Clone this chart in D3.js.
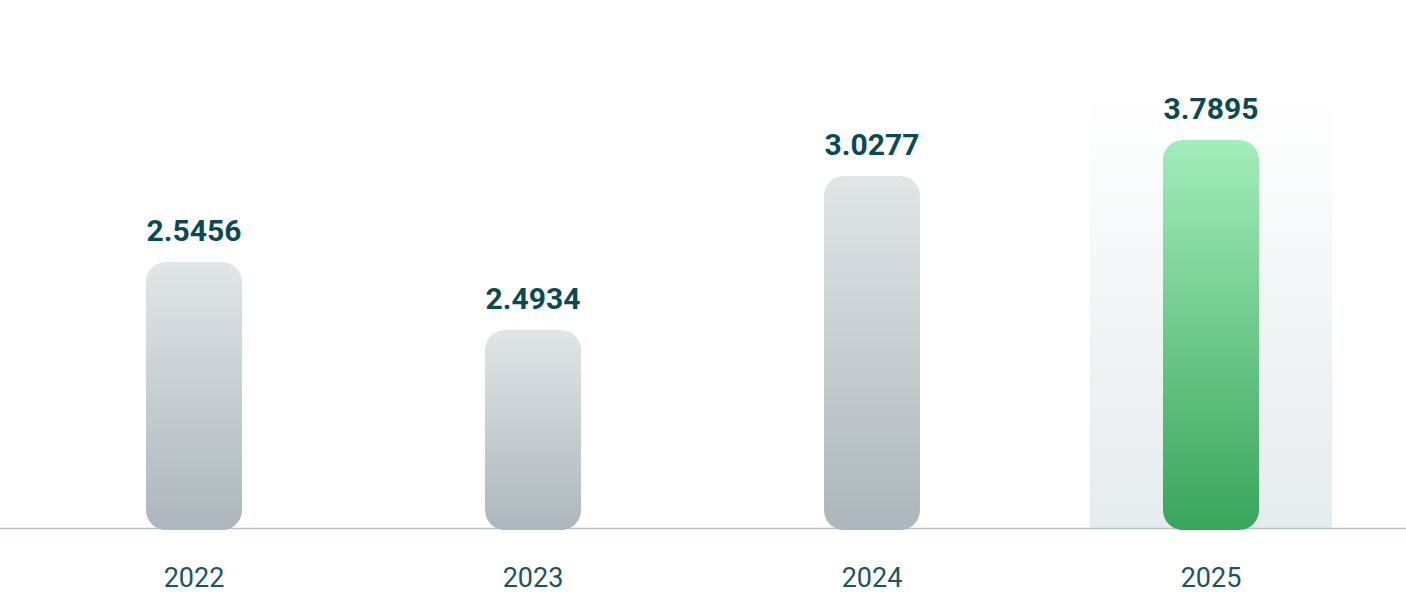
<!DOCTYPE html>
<html>
<head>
<meta charset="utf-8">
<script src="https://cdn.jsdelivr.net/npm/d3@7"></script>
<style>
  body { margin: 0; background: #fff; }
  svg { display: block; }
</style>
</head>
<body>
<div id="chart"></div>
<script>
// data
var years = ["2022", "2023", "2024", "2025"];
var values = [2.5456, 2.4934, 3.0277, 3.7895];
var labels = ["2.5456", "2.4934", "3.0277", "3.7895"];
var highlightYear = "2025";

var width = 1406, height = 600;
var baseline = 529;

var svg = d3.select("#chart").append("svg")
  .attr("width", width)
  .attr("height", height);

var defs = svg.append("defs");

function vGrad(id, stops) {
  var g = defs.append("linearGradient")
    .attr("id", id)
    .attr("x1", 0).attr("y1", 0).attr("x2", 0).attr("y2", 1);
  stops.forEach(function(s) {
    g.append("stop").attr("offset", s[0]).attr("stop-color", s[1]);
  });
}
vGrad("grayGrad", [[0, "#e1e6e7"], [1, "#acb6bc"]]);
vGrad("greenGrad", [[0, "#a3edbb"], [1, "#39a55b"]]);
vGrad("colGrad", [[0, "#ffffff"], [1, "#e6ebed"]]);

var x = d3.scaleBand()
  .domain(years)
  .range([24.5, 1380.5])
  .paddingInner(0)
  .paddingOuter(0);

// the source chart does not scale bars linearly from zero,
// so use a piecewise scale that follows its visual heights
var y = d3.scaleLinear()
  .domain([2.4934, 2.5456, 3.0277, 3.7895])
  .range([330, 262, 176, 140]);

var barW = 96;
var colW = 242;

// highlight column behind the latest year
svg.append("rect")
  .attr("x", x(highlightYear) + x.bandwidth() / 2 - colW / 2)
  .attr("y", 92)
  .attr("width", colW)
  .attr("height", baseline - 92)
  .attr("fill", "url(#colGrad)");

// baseline
svg.append("line")
  .attr("x1", 0).attr("x2", width)
  .attr("y1", baseline - 0.5).attr("y2", baseline - 0.5)
  .attr("stroke", "#b9c5c9")
  .attr("stroke-width", 1.5);

var g = svg.selectAll(".bar")
  .data(years)
  .enter().append("g")
  .attr("class", "bar");

g.append("rect")
  .attr("x", function(d) { return x(d) + x.bandwidth() / 2 - barW / 2; })
  .attr("y", function(d, i) { return y(values[i]); })
  .attr("width", barW)
  .attr("height", function(d, i) { return baseline + 1 - y(values[i]); })
  .attr("rx", 20).attr("ry", 20)
  .attr("fill", function(d) { return d === highlightYear ? "url(#greenGrad)" : "url(#grayGrad)"; });

g.append("text")
  .attr("x", function(d) { return x(d) + x.bandwidth() / 2; })
  .attr("y", function(d, i) { return y(values[i]) - 21; })
  .attr("text-anchor", "middle")
  .attr("font-family", "Roboto, sans-serif")
  .attr("font-weight", 700)
  .attr("font-size", 30)
  .attr("fill", "#0c4a51")
  .text(function(d, i) { return labels[i]; });

g.append("text")
  .attr("x", function(d) { return x(d) + x.bandwidth() / 2; })
  .attr("y", 587)
  .attr("text-anchor", "middle")
  .attr("font-family", "Roboto, sans-serif")
  .attr("font-size", 27)
  .attr("fill", "#1d5460")
  .text(function(d) { return d; });
</script>
</body>
</html>
